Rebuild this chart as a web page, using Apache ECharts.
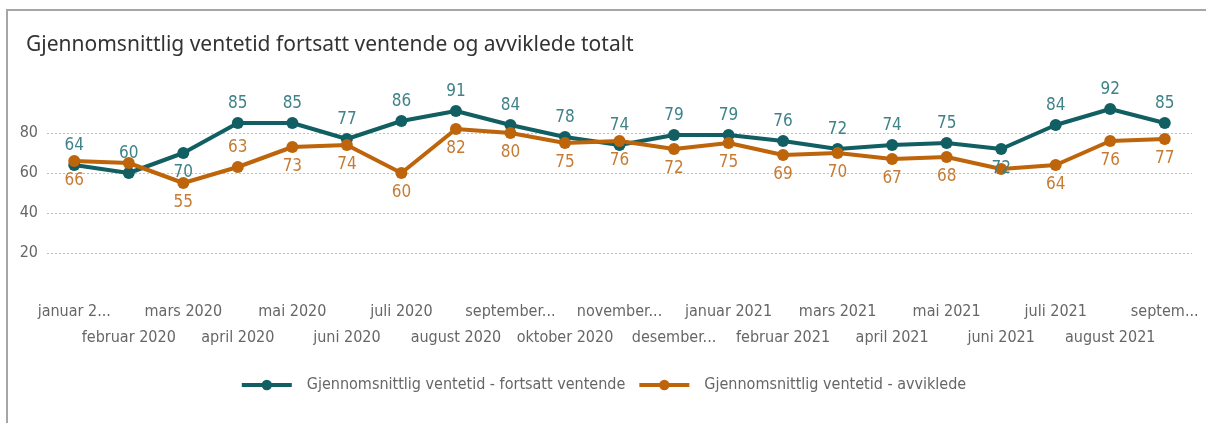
<!DOCTYPE html>
<html>
<head>
<meta charset="utf-8">
<script src="https://cdn.jsdelivr.net/npm/echarts@6/dist/echarts.min.js"></script>
<style>
  html, body { margin: 0; padding: 0; background: #fff; }
  .wrap { position: relative; width: 1206px; height: 423px; overflow: hidden; }
  .frame {
    position: absolute; left: 6px; top: 9px; right: -4px; bottom: -4px;
    border-top: 2px solid #a6a6a6; border-left: 2px solid #a6a6a6;
  }
  #chart { position: absolute; left: 0; top: 0; width: 1206px; height: 423px; }
</style>
</head>
<body>
<div class="wrap">
  <div class="frame"></div>
  <div id="chart"></div>
</div>
<script>
const months = [
  'januar 2020', 'februar 2020', 'mars 2020', 'april 2020', 'mai 2020', 'juni 2020',
  'juli 2020', 'august 2020', 'september 2020', 'oktober 2020', 'november 2020',
  'desember 2020', 'januar 2021', 'februar 2021', 'mars 2021', 'april 2021',
  'mai 2021', 'juni 2021', 'juli 2021', 'august 2021', 'september 2021'
]
// labels as they show on the axis (truncated)
const tickLabels = [
  'januar 2...', 'februar 2020', 'mars 2020', 'april 2020', 'mai 2020', 'juni 2020',
  'juli 2020', 'august 2020', 'september...', 'oktober 2020', 'november...',
  'desember...', 'januar 2021', 'februar 2021', 'mars 2021', 'april 2021',
  'mai 2021', 'juni 2021', 'juli 2021', 'august 2021', 'septem...'
]
const ventende = [64, 60, 70, 85, 85, 77, 86, 91, 84, 78, 74, 79, 79, 76, 72, 74, 75, 72, 84, 92, 85]
const avviklede = [66, 65, 55, 63, 73, 74, 60, 82, 80, 75, 76, 72, 75, 69, 70, 67, 68, 62, 64, 76, 77]
const yTicks = [20, 40, 60, 80]

const font = '"Liberation Sans Narrow", "DejaVu Sans Condensed", "Noto Sans", sans-serif'
const teal = '#115e63'
const orange = '#be640a'

// label placement per point (where the original puts it on the other side / hides it)
function points(values, side, flip, hide) {
  return values.map((v, i) => ({
    value: v,
    label: {
      show: !hide.includes(i),
      position: flip.includes(i) ? (side === 'top' ? 'bottom' : 'top') : side,
    },
  }))
}

const myChart = echarts.init(document.getElementById('chart'))
myChart.setOption({
  animation: false,
  title: {
    text: 'Gjennomsnittlig ventetid fortsatt ventende og avviklede totalt',
    left: 21,
    top: 30,
    textStyle: {
      fontFamily: '"Noto Sans", sans-serif',
      fontSize: 21,
      fontWeight: 'normal',
      color: '#333',
    },
  },
  grid: {
    left: 47,
    right: 14,
    top: 93,
    bottom: 130,
  },
  legend: {
    bottom: 25,
    left: 'center',
    itemWidth: 50,
    itemHeight: 13,
    itemGap: 12,
    lineStyle: { width: 4 },
    textStyle: { fontFamily: font, fontSize: 16, color: '#666', padding: [0, 0, 0, 10] },
  },
  xAxis: {
    type: 'category',
    data: months,
    axisLine: { show: false },
    axisTick: { show: false },
    axisLabel: {
      interval: 0,
      margin: 6,
      fontFamily: font,
      fontSize: 16,
      lineHeight: 26,
      color: '#666',
      formatter: (v, i) => (i % 2 ? '\n' + tickLabels[i] : tickLabels[i]),
    },
  },
  yAxis: {
    type: 'value',
    min: 0,
    max: 100,
    interval: 20,
    axisLine: { show: false },
    axisTick: { show: false },
    axisLabel: {
      margin: 9,
      fontFamily: font,
      fontSize: 16,
      color: '#666',
      formatter: (v) => (yTicks.includes(v) ? String(v) : ''),
    },
    splitLine: {
      showMinLine: false,
      showMaxLine: false,
      lineStyle: { color: '#bdbdbd', type: [2, 2], width: 1 },
    },
  },
  series: [
    {
      name: 'Gjennomsnittlig ventetid - fortsatt ventende',
      type: 'line',
      data: points(ventende, 'top', [2, 17], []),
      symbol: 'circle',
      symbolSize: 12,
      color: teal,
      lineStyle: { width: 4, color: teal },
      label: {
        fontFamily: font,
        fontSize: 17,
        color: '#3f8288',
        distance: 5,
      },
    },
    {
      name: 'Gjennomsnittlig ventetid - avviklede',
      type: 'line',
      data: points(avviklede, 'bottom', [3], [1, 17]),
      symbol: 'circle',
      symbolSize: 12,
      color: orange,
      lineStyle: { width: 4, color: orange },
      label: {
        fontFamily: font,
        fontSize: 17,
        color: '#c67b34',
        distance: 5,
      },
    },
  ],
})
</script>
</body>
</html>
